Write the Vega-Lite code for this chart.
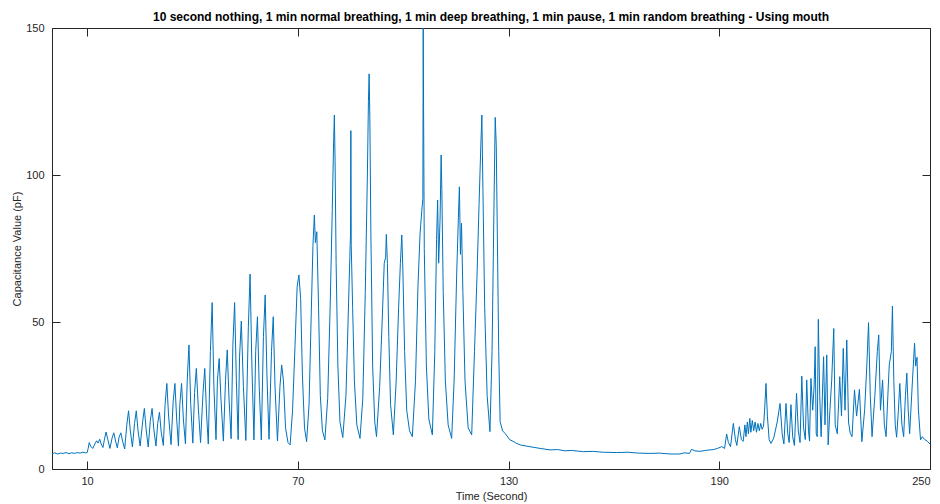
{
"$schema": "https://vega.github.io/schema/vega-lite/v6.json",
"width": 878, "height": 441,
"autosize": {"type": "none"},
"padding": {"left": 52, "top": 28, "right": 10, "bottom": 35},
"background": "white",
"config": {"view": {"stroke": "#262626", "strokeWidth": 1}, "font": "Liberation Sans",
  "axis": {"domainColor": "#262626", "tickColor": "#262626", "labelColor": "#262626", "titleColor": "#262626", "labelFont": "Liberation Sans", "titleFont": "Liberation Sans", "labelFontSize": 11, "titleFontSize": 11, "titleFontWeight": "normal", "grid": false, "tickSize": -8, "domainWidth": 1, "tickWidth": 1}},
"title": {"text": "10 second nothing, 1 min normal breathing, 1 min deep breathing, 1 min pause, 1 min random breathing - Using mouth", "fontSize": 12, "fontWeight": "bold", "color": "#000000", "font": "Liberation Sans", "offset": -2, "anchor": "middle"},
"data": {"values": [
{"t":0,"v":5.2},{"t":0.8,"v":5.5},{"t":1.6,"v":5.1},{"t":2.4,"v":5.4},{"t":3.2,"v":5.3},{"t":4,"v":5.6},{"t":4.8,"v":5.2},{"t":5.6,"v":5.5},{"t":6.4,"v":5.3},{"t":7.2,"v":5.6},{"t":8,"v":5.4},{"t":8.8,"v":5.7},{"t":9.6,"v":5.5},{"t":10.0,"v":5.6},
{"t":10.3,"v":7.0},{"t":10.6,"v":9.0},{"t":11.0,"v":7.8},{"t":11.6,"v":7.0},
{"t":12.2,"v":8.5},{"t":12.7,"v":9.6},{"t":13.1,"v":8.8},{"t":13.6,"v":10.1},{"t":14.0,"v":8.5},{"t":14.5,"v":7.3},
{"t":15.0,"v":10.5},{"t":15.4,"v":12.6},{"t":15.9,"v":10.0},{"t":16.5,"v":7.0},
{"t":17.1,"v":10.5},{"t":17.6,"v":12.3},{"t":18.1,"v":9.5},{"t":18.6,"v":7.2},
{"t":19.1,"v":10.8},{"t":19.6,"v":12.3},{"t":20.1,"v":9.5},{"t":20.7,"v":6.8},
{"t":21.3,"v":15},{"t":21.8,"v":19.8},{"t":22.3,"v":13},{"t":22.9,"v":7.5},
{"t":23.5,"v":15.5},{"t":24.0,"v":19.8},{"t":24.5,"v":13},{"t":25.1,"v":7.8},
{"t":25.8,"v":16},{"t":26.3,"v":20.6},{"t":26.8,"v":13.5},{"t":27.4,"v":7.5},
{"t":28.0,"v":16.5},{"t":28.5,"v":20.6},{"t":29.0,"v":13.5},{"t":29.6,"v":7.8},
{"t":30.1,"v":15.5},{"t":30.6,"v":19.3},{"t":31.1,"v":12.5},{"t":31.7,"v":8.0},
{"t":32.2,"v":22},{"t":32.7,"v":29.1},{"t":33.2,"v":18},{"t":33.9,"v":8.3},
{"t":34.5,"v":23},{"t":35.0,"v":29.1},{"t":35.5,"v":17},{"t":36.0,"v":7.8},
{"t":36.4,"v":22},{"t":36.9,"v":29.1},{"t":37.4,"v":17},{"t":38.0,"v":8.5},
{"t":38.5,"v":30},{"t":39.0,"v":42.2},{"t":39.5,"v":22},{"t":40.1,"v":8.8},
{"t":40.6,"v":26},{"t":41.1,"v":34.2},{"t":41.7,"v":20},{"t":42.3,"v":9.0},
{"t":43.0,"v":26},{"t":43.5,"v":34.2},{"t":44.0,"v":19},{"t":44.5,"v":8.5},
{"t":45.1,"v":40},{"t":45.6,"v":56.6},{"t":46.1,"v":28},{"t":46.7,"v":10.0},
{"t":47.1,"v":30},{"t":47.6,"v":37.6},{"t":48.1,"v":24},{"t":48.8,"v":9.5},
{"t":49.4,"v":30},{"t":49.9,"v":40.5},{"t":50.4,"v":24},{"t":51.0,"v":10.3},
{"t":51.5,"v":42},{"t":52.0,"v":56.6},{"t":52.5,"v":30},{"t":53.0,"v":10.0},
{"t":53.4,"v":38},{"t":53.9,"v":50.3},{"t":54.5,"v":28},{"t":55.2,"v":9.7},
{"t":55.9,"v":48},{"t":56.4,"v":66.3},{"t":56.9,"v":36},{"t":57.5,"v":9.9},
{"t":58.0,"v":40},{"t":58.5,"v":51.8},{"t":59.0,"v":28},{"t":59.6,"v":9.9},
{"t":60.2,"v":45},{"t":60.7,"v":59.2},{"t":61.2,"v":32},{"t":61.8,"v":10.1},
{"t":62.5,"v":40},{"t":63.0,"v":51.8},{"t":63.5,"v":28},{"t":64.2,"v":9.5},
{"t":64.9,"v":28},{"t":65.4,"v":35.4},{"t":65.9,"v":30},{"t":66.5,"v":14},{"t":67.2,"v":9.0},{"t":67.8,"v":8.2},
{"t":68.5,"v":20},{"t":69.2,"v":42},{"t":69.8,"v":62},{"t":70.3,"v":66},{"t":70.8,"v":58},{"t":71.3,"v":32},{"t":71.9,"v":14},{"t":72.5,"v":9.3},
{"t":73.2,"v":22},{"t":73.8,"v":52},{"t":74.3,"v":76},{"t":74.7,"v":86.4},{"t":75.0,"v":77},{"t":75.4,"v":80.7},{"t":75.9,"v":55},{"t":76.4,"v":25},{"t":77.0,"v":13},{"t":77.7,"v":9.9},
{"t":78.5,"v":24},{"t":79.2,"v":55},{"t":79.8,"v":88},{"t":80.2,"v":112},{"t":80.4,"v":120.4},{"t":80.6,"v":105},{"t":80.9,"v":70},{"t":81.4,"v":35},{"t":82.0,"v":16},{"t":82.8,"v":10.7},
{"t":83.7,"v":25},{"t":84.3,"v":50},{"t":84.8,"v":72},{"t":85.0,"v":80},{"t":85.1,"v":115.1},{"t":85.2,"v":76},{"t":85.6,"v":55},{"t":86.1,"v":30},{"t":86.8,"v":15},{"t":87.7,"v":10.4},
{"t":88.5,"v":24},{"t":89.2,"v":60},{"t":89.8,"v":100},{"t":90.1,"v":125},{"t":90.3,"v":134.4},{"t":90.5,"v":120},{"t":90.8,"v":80},{"t":91.3,"v":35},{"t":91.9,"v":16},{"t":92.4,"v":11},
{"t":93.3,"v":28},{"t":94.0,"v":50},{"t":94.6,"v":70},{"t":95.0,"v":72},{"t":95.2,"v":79.8},{"t":95.5,"v":70},{"t":95.9,"v":45},{"t":96.4,"v":22},{"t":97.2,"v":11.6},
{"t":98.0,"v":30},{"t":98.7,"v":55},{"t":99.2,"v":70},{"t":99.6,"v":79.6},{"t":99.9,"v":68},{"t":100.4,"v":40},{"t":101.0,"v":20},{"t":101.8,"v":13},{"t":102.6,"v":11},
{"t":103.5,"v":30},{"t":104.2,"v":62},{"t":104.8,"v":80},{"t":105.3,"v":88},{"t":105.6,"v":92},{"t":105.7,"v":150},{"t":105.8,"v":123},{"t":106.0,"v":75},{"t":106.6,"v":35},{"t":107.3,"v":17},{"t":108.3,"v":11.6},
{"t":109.0,"v":40},{"t":109.5,"v":78},{"t":109.8,"v":91.5},{"t":110.1,"v":70},{"t":110.5,"v":85},{"t":110.8,"v":106.8},{"t":111.0,"v":95},{"t":111.4,"v":60},{"t":112.0,"v":30},{"t":112.8,"v":15},{"t":113.8,"v":10.4},
{"t":114.5,"v":30},{"t":115.2,"v":65},{"t":115.7,"v":85},{"t":116.0,"v":96},{"t":116.3,"v":73},{"t":116.6,"v":83.6},{"t":117.0,"v":60},{"t":117.6,"v":30},{"t":118.5,"v":14},{"t":119.5,"v":11.6},
{"t":120.3,"v":40},{"t":121.0,"v":65},{"t":121.6,"v":90},{"t":122.1,"v":110},{"t":122.4,"v":120.4},{"t":122.7,"v":95},{"t":123.2,"v":55},{"t":123.9,"v":25},{"t":124.7,"v":12.7},
{"t":125.3,"v":40},{"t":125.8,"v":85},{"t":126.2,"v":119.6},{"t":126.5,"v":110},{"t":126.8,"v":80},{"t":127.2,"v":40},{"t":127.6,"v":16.1},{"t":128.3,"v":13},{"t":129.0,"v":12.1},{"t":130.4,"v":9.9},
{"t":131,"v":9.6},{"t":132,"v":8.9},{"t":133.3,"v":8.2},{"t":135,"v":7.8},{"t":137,"v":7.4},{"t":139,"v":7.0},{"t":141.8,"v":6.5},{"t":144,"v":6.6},{"t":146,"v":6.2},{"t":148,"v":6.3},{"t":151.3,"v":5.9},{"t":154,"v":6.0},{"t":157,"v":5.7},{"t":160.8,"v":5.6},{"t":164,"v":5.7},{"t":167,"v":5.4},{"t":170.3,"v":5.3},{"t":173,"v":5.4},{"t":176,"v":5.1},{"t":178.8,"v":5.1},{"t":180,"v":5.5},{"t":181.5,"v":5.3},{"t":182.1,"v":6.7},{"t":183,"v":6.2},{"t":184.5,"v":6.0},{"t":186,"v":6.3},{"t":187.4,"v":6.5},{"t":188.3,"v":6.6},{"t":189.5,"v":7.0},{"t":190.7,"v":7.6},{"t":191.5,"v":7.0},
{"t":192.1,"v":11.9},{"t":192.6,"v":9},{"t":193.2,"v":7.6},{"t":194.0,"v":15.5},{"t":194.6,"v":10},{"t":195.0,"v":8.0},{"t":195.7,"v":14.4},{"t":196.3,"v":10},{"t":196.8,"v":9.4},
{"t":197.3,"v":15},{"t":197.6,"v":11},{"t":198.0,"v":16},{"t":198.3,"v":12},{"t":198.7,"v":17.2},{"t":199.0,"v":12.5},{"t":199.4,"v":16.5},{"t":199.8,"v":13},{"t":200.2,"v":16},{"t":200.6,"v":12.5},{"t":201.0,"v":15.5},{"t":201.4,"v":13},{"t":201.8,"v":15.5},{"t":202.2,"v":13.5},{"t":202.6,"v":14.5},
{"t":202.9,"v":20},{"t":203.3,"v":29.1},{"t":203.7,"v":18},{"t":204.2,"v":10},{"t":204.7,"v":8.7},
{"t":205.5,"v":10.5},{"t":206.5,"v":16},{"t":207.3,"v":22.3},{"t":207.9,"v":12},{"t":208.4,"v":8.5},{"t":209.0,"v":22.3},{"t":209.5,"v":12},{"t":209.9,"v":9},{"t":210.4,"v":21.9},{"t":210.9,"v":11},{"t":211.4,"v":8},{"t":212.0,"v":25.7},{"t":212.5,"v":13},{"t":213.0,"v":9},{"t":213.5,"v":31.6},{"t":214.0,"v":14},{"t":214.5,"v":10},{"t":214.9,"v":30.3},{"t":215.4,"v":13},{"t":215.7,"v":9.5},{"t":216.1,"v":30.8},{"t":216.6,"v":20},{"t":217.0,"v":28},{"t":217.3,"v":41.6},{"t":217.6,"v":12},{"t":217.9,"v":11},{"t":218.2,"v":50.9},{"t":218.6,"v":25},{"t":219.0,"v":11},{"t":219.7,"v":38.2},{"t":220.1,"v":15},{"t":220.6,"v":38.8},{"t":221.0,"v":8.2},{"t":221.5,"v":20},{"t":222.0,"v":30},{"t":222.6,"v":47.8},{"t":223.0,"v":15},{"t":223.6,"v":12},{"t":224.3,"v":31.4},{"t":224.8,"v":18},{"t":225.3,"v":41},{"t":225.8,"v":20},{"t":226.3,"v":43.9},{"t":226.8,"v":16},{"t":227.3,"v":12.1},{"t":227.8,"v":11},{"t":228.5,"v":26.9},{"t":229.1,"v":18},{"t":229.9,"v":27.1},{"t":230.6,"v":9.3},{"t":231.4,"v":20.3},{"t":232.0,"v":35},{"t":232.5,"v":49.8},{"t":233.0,"v":25},{"t":233.5,"v":11},{"t":234.3,"v":25},{"t":235.0,"v":40},{"t":235.4,"v":45.6},{"t":235.9,"v":20},{"t":236.5,"v":30.3},{"t":237.0,"v":15},{"t":237.5,"v":11},{"t":238.0,"v":25},{"t":238.4,"v":35.4},{"t":239.0,"v":40},{"t":239.3,"v":55.4},{"t":239.7,"v":30},{"t":240.1,"v":15},{"t":240.5,"v":10.8},{"t":241.0,"v":20},{"t":241.4,"v":29.1},{"t":242.0,"v":15},{"t":242.5,"v":11},{"t":243.0,"v":25},{"t":243.4,"v":32.6},{"t":243.8,"v":20},{"t":244.2,"v":12},{"t":245.0,"v":30},{"t":245.6,"v":42.8},{"t":245.9,"v":35},{"t":246.3,"v":38},{"t":246.7,"v":20},{"t":247.3,"v":9.9},{"t":247.8,"v":11},{"t":248.5,"v":10},{"t":249.2,"v":9.5},{"t":250,"v":8.5}
]},
"layer": [
 {"mark": {"type": "line", "color": "#0072BD", "strokeWidth": 1, "clip": true},
  "encoding": {
   "x": {"field": "t", "type": "quantitative", "scale": {"domain": [0, 250], "nice": false, "zero": false},
     "axis": {"orient": "bottom", "values": [10, 70, 130, 190, 250], "title": "Time (Second)", "labelPadding": 14, "titlePadding": 4, "format": "d"}},
   "y": {"field": "v", "type": "quantitative", "scale": {"domain": [0, 150], "nice": false},
     "axis": {"orient": "left", "values": [0, 50, 100, 150], "title": "Capacitance Value (pF)", "labelPadding": 16, "titlePadding": 3, "format": "d"}}
  }},
 {"mark": {"type": "line", "opacity": 0},
  "encoding": {
   "x": {"field": "t", "type": "quantitative", "axis": {"orient": "top", "values": [10, 70, 130, 190, 250], "labels": false, "title": null, "domain": false}},
   "y": {"field": "v", "type": "quantitative", "axis": {"orient": "right", "values": [0, 50, 100, 150], "labels": false, "title": null, "domain": false}}
  }}
],
"resolve": {"axis": {"x": "independent", "y": "independent"}}
}
